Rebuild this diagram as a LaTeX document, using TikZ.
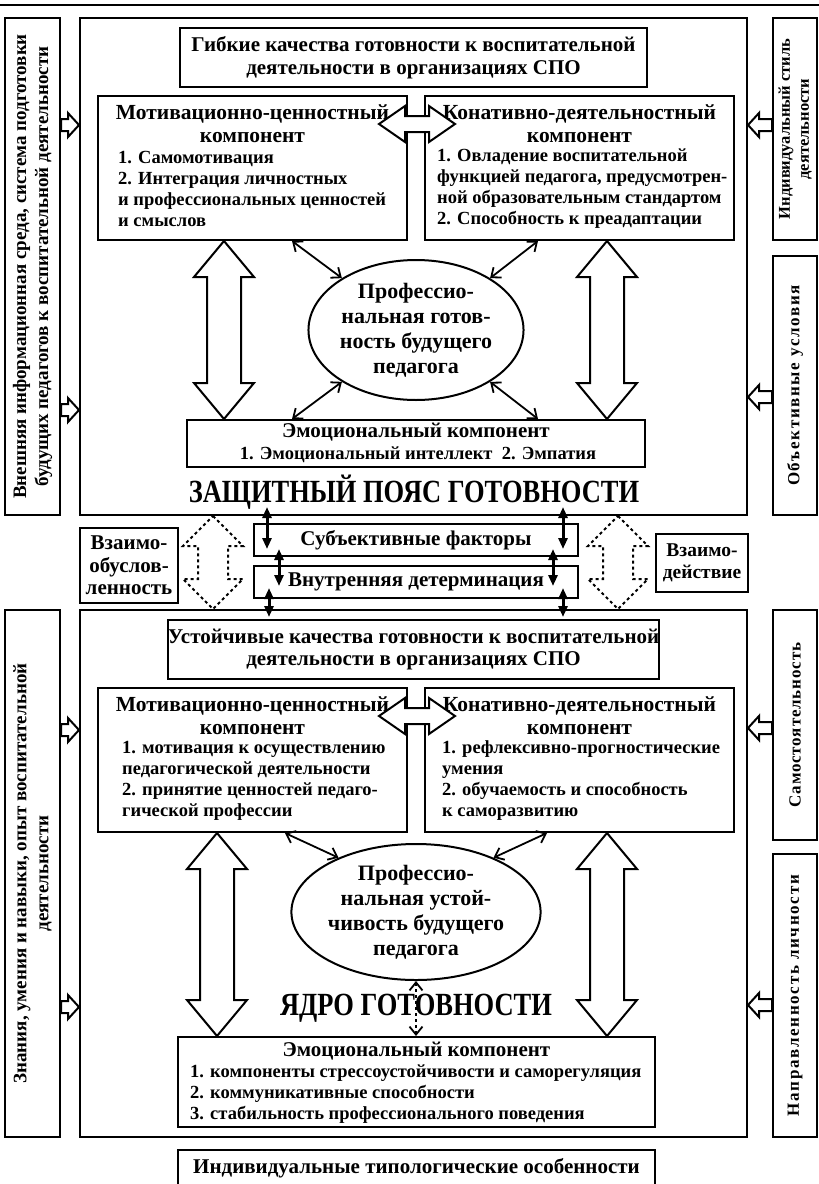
\documentclass[tikz,border=0pt]{standalone}
\usepackage{fontspec}
\usepackage{graphicx}
\setmainfont{Liberation Serif}
\usetikzlibrary{arrows.meta,calc,shapes.geometric}

\newcommand\headfont{\fontsize{21.5}{23}\selectfont\bfseries}
\newcommand\itemfont{\fontsize{18.5}{21}\selectfont\bfseries}
\newcommand\titlefont{\fontsize{21}{22.5}\selectfont\bfseries}
\newcommand\ellfont{\fontsize{22}{25}\selectfont\bfseries}
\newcommand\sidefont{\fontsize{19}{22}\selectfont\bfseries}
\newcommand\rsidefont{\fontsize{17}{20}\selectfont\bfseries}
\newcommand\bigtext[1]{\scalebox{0.82}[1]{\fontsize{32.3}{33}\selectfont\bfseries #1}}

% hollow vertical double arrow: [opts]{top}{bottom}{half shaft}{half head}{head length}
\newcommand{\hollowv}[6][]{%
  \draw[hollow,#1] let \p1=(#2), \p2=(#3) in
    (\x1,\y1) -- (\x1+#5pt,\y1-#6pt) -- (\x1+#4pt,\y1-#6pt) -- (\x1+#4pt,\y2+#6pt)
    -- (\x1+#5pt,\y2+#6pt) -- (\x1,\y2) -- (\x1-#5pt,\y2+#6pt) -- (\x1-#4pt,\y2+#6pt)
    -- (\x1-#4pt,\y1-#6pt) -- (\x1-#5pt,\y1-#6pt) -- cycle;}
% hollow horizontal double arrow: [opts]{left}{right}{half shaft}{half head}{head length}
\newcommand{\hollowh}[6][]{%
  \draw[hollow,#1] let \p1=(#2), \p2=(#3) in
    (\x1,\y1) -- (\x1+#6pt,\y1+#5pt) -- (\x1+#6pt,\y1+#4pt) -- (\x2-#6pt,\y1+#4pt)
    -- (\x2-#6pt,\y1+#5pt) -- (\x2,\y1) -- (\x2-#6pt,\y1-#5pt) -- (\x2-#6pt,\y1-#4pt)
    -- (\x1+#6pt,\y1-#4pt) -- (\x1+#6pt,\y1-#5pt) -- cycle;}
% hollow single arrow: [opts]{tail}{tip}{half shaft}{half head}{head length}
\newcommand{\hollows}[6][]{%
  \draw[hollow,#1] let \p1=(#2), \p2=(#3), \p3=($(#3)!#6pt!(#2)$) in
    (\x1,\y1+#4pt) -- (\x3,\y1+#4pt) -- (\x3,\y1+#5pt) -- (\x2,\y1)
    -- (\x3,\y1-#5pt) -- (\x3,\y1-#4pt) -- (\x1,\y1-#4pt) -- cycle;}

\begin{document}
\begin{tikzpicture}[x=1pt,y=-1pt,
    box/.style={draw, line width=2pt, fill=white, inner sep=0pt},
    tbox/.style={box, font=\titlefont, align=center},
    head/.style={font=\headfont, align=center, inner sep=0pt},
    ttl/.style={font=\titlefont, align=center, inner sep=0pt},
    items/.style={font=\itemfont, align=left, inner sep=0pt, anchor=west},
    side/.style={font=\sidefont, align=center, rotate=90, inner sep=0pt},
    rside/.style={font=\rsidefont, align=center, rotate=90, inner sep=0pt},
    oval/.style={draw, ellipse, line width=2pt, inner sep=0pt, font=\ellfont, align=center},
    hollow/.style={draw, line width=2pt, fill=white, line join=miter},
    thinarr/.style={line width=1.8pt, {Straight Barb[length=8pt,width=13pt]}-{Straight Barb[length=8pt,width=13pt]}},
    thickarr/.style={line width=3pt, {Triangle[length=11pt,width=9pt]}-{Triangle[length=11pt,width=9pt]}}]
  \useasboundingbox (0,0) rectangle (819,1184);
  \draw[line width=2pt] (0,5) -- (819,5);

  % protective belt
  \node[box, minimum width=55, minimum height=497] (extA) at (32.5,266.5) {};
  \node[side] (extAt) at (extA) {Внешняя информационная среда, система подготовки\\будущих педагогов к воспитательной деятельности};
  \node[box, fill=none, minimum width=667, minimum height=497] (upframe) at (413.5,266.5) {};
  \node[box, minimum width=44, minimum height=222] (styleR) at (795,129) {};
  \node[rside, font=\fontsize{16.5}{19}\selectfont\bfseries] (styleRt) at (styleR) {Индивидуальный стиль\\деятельности};
  \node[box, minimum width=44, minimum height=259] (condR) at (795,385.5) {};
  \node[rside] (condRt) at (condR) {\addfontfeature{LetterSpace=10}Объективные условия};

  \node[tbox, minimum width=467, minimum height=59] (flexq) at (413.5,57.5) {Гибкие качества готовности к воспитательной\\деятельности в организациях СПО};
  \node[box, minimum width=309, minimum height=144] (motivA) at (252.5,168) {};
  \node[head] (motivAh) at (252.5,123.5) {Мотивационно-ценностный\\компонент};
  \node[items] (motivAi) at (118,188.5) {1. Самомотивация\\2. Интеграция личностных\\и профессиональных ценностей\\и смыслов};
  \node[box, minimum width=309, minimum height=144] (conatA) at (579.5,168) {};
  \node[head] (conatAh) at (579.5,123.5) {Конативно-деятельностный\\компонент};
  \node[items] (conatAi) at (437,188.5) {1. Овладение воспитательной\\функцией педагога, предусмотрен-\\ной образовательным стандартом\\2. Способность к преадаптации};
  \node[oval, minimum width=204, minimum height=140] (readyA) at (416,330) {Профессио-\\нальная готов-\\ность будущего\\педагога};
  \node[box, minimum width=458, minimum height=47] (emoA) at (416,443.5) {};
  \node[ttl] (emoAh) at (416,432) {Эмоциональный компонент};
  \node[font=\itemfont, inner sep=0pt] (emoAi) at (418,455) {1. Эмоциональный интеллект\ \ 2. Эмпатия};
  \node[inner sep=0pt] (beltA) at (414,492) {\bigtext{ЗАЩИТНЫЙ ПОЯС ГОТОВНОСТИ}};

  \hollowv{motivA.south -| 224,0}{emoA.north -| 224,0}{17}{30}{36}
  \hollowv{conatA.south -| 607,0}{emoA.north -| 607,0}{17}{30}{36}
  \coordinate (linkAl) at (379,124);
  \coordinate (linkAr) at (455,124);
  \hollowh{linkAl}{linkAr}{8}{18}{26}
  \draw[thinarr] (motivA.south -| 292,0) -- (readyA.145);
  \draw[thinarr] (conatA.south -| 538,0) -- (readyA.35);
  \draw[thinarr] (emoA.north -| 292,0) -- (readyA.215);
  \draw[thinarr] (emoA.north -| 538,0) -- (readyA.325);
  \hollows{extA.east |- 0,125}{upframe.west |- 0,125}{6}{12}{11}
  \hollows{extA.east |- 0,410}{upframe.west |- 0,410}{6}{12}{11}
  \hollows{styleR.west |- 0,125}{upframe.east |- 0,125}{6}{12}{11}
  \hollows{condR.west |- 0,397}{upframe.east |- 0,397}{6}{12}{11}

  % core
  \node[box, minimum width=55, minimum height=527] (extB) at (32.5,873.5) {};
  \node[side] (extBt) at (extB) {Знания, умения и навыки, опыт воспитательной\\деятельности};
  \node[box, fill=none, minimum width=667, minimum height=527] (lowframe) at (413.5,873.5) {};
  \node[box, minimum width=44, minimum height=230] (selfR) at (795,725) {};
  \node[rside] (selfRt) at (selfR) {\addfontfeature{LetterSpace=5}Самостоятельность};
  \node[box, minimum width=44, minimum height=283] (orientR) at (795,995.5) {};
  \node[rside] (orientRt) at (orientR) {\addfontfeature{LetterSpace=10}Направленность личности};

  \node[tbox, minimum width=467, minimum height=59] (stableq) at (413.5,649.5) {Устойчивые качества готовности к воспитательной\\деятельности в организациях СПО};
  \node[box, minimum width=309, minimum height=144] (motivB) at (252.5,760) {};
  \node[head] (motivBh) at (252.5,715.5) {Мотивационно-ценностный\\компонент};
  \node[items] (motivBi) at (122,780.5) {1. мотивация к осуществлению\\педагогической деятельности\\2. принятие ценностей педаго-\\гической профессии};
  \node[box, minimum width=309, minimum height=144] (conatB) at (579.5,760) {};
  \node[head] (conatBh) at (579.5,715.5) {Конативно-деятельностный\\компонент};
  \node[items] (conatBi) at (442,780.5) {1. рефлексивно-прогностические\\умения\\2. обучаемость и способность\\к саморазвитию};
  \node[oval, minimum width=204, minimum height=136] (steadyB) at (416,912) {Профессио-\\нальная устой-\\чивость будущего\\педагога};
  \node[inner sep=0pt] (coreB) at (416,1008) {\bigtext{ЯДРО ГОТОВНОСТИ}};
  \node[box, minimum width=477, minimum height=90] (emoB) at (416.5,1082) {};
  \node[ttl] (emoBh) at (416.5,1051) {Эмоциональный компонент};
  \node[items] (emoBi) at (190,1094) {1. компоненты стрессоустойчивости и саморегуляция\\2. коммуникативные способности\\3. стабильность профессионального поведения};

  \hollowv{motivB.south -| 217,0}{emoB.north -| 217,0}{17}{30}{36}
  \hollowv{conatB.south -| 607,0}{emoB.north -| 607,0}{17}{30}{36}
  \coordinate (linkBl) at (379,716);
  \coordinate (linkBr) at (455,716);
  \hollowh{linkBl}{linkBr}{8}{18}{26}
  \draw[thinarr] (motivB.south -| 285,0) -- (steadyB.145);
  \draw[thinarr] (conatB.south -| 547,0) -- (steadyB.35);
  \draw[thinarr, dashed] (steadyB.south) -- (emoB.north -| steadyB.south);
  \hollows{extB.east |- 0,730}{lowframe.west |- 0,730}{6}{12}{11}
  \hollows{extB.east |- 0,1007}{lowframe.west |- 0,1007}{6}{12}{11}
  \hollows{selfR.west |- 0,728}{lowframe.east |- 0,728}{6}{12}{11}
  \hollows{orientR.west |- 0,1005}{lowframe.east |- 0,1005}{6}{12}{11}

  % between
  \node[tbox, minimum width=98, minimum height=75] (mutualL) at (129,565.5) {Взаимо-\\обуслов-\\ленность};
  \node[tbox, minimum width=92, minimum height=58, font=\fontsize{19.5}{22}\selectfont\bfseries] (mutualR) at (702,563) {Взаимо-\\действие};
  \node[tbox, minimum width=324, minimum height=32] (subj) at (416,540) {Субъективные факторы};
  \node[tbox, minimum width=324, minimum height=32] (inner) at (416,582) {Внутренняя детерминация};
  \hollowv[dashed]{upframe.south -| 213,0}{lowframe.north -| 213,0}{15}{30}{30}
  \hollowv[dashed]{upframe.south -| 618,0}{lowframe.north -| 618,0}{15}{30}{30}
  \coordinate (a1) at (267,507);
  \coordinate (a2) at (267,549);
  \coordinate (a3) at (279,549);
  \coordinate (a4) at (279,586);
  \coordinate (a5) at (269,588);
  \coordinate (a6) at (269,617);
  \coordinate (b1) at (563,507);
  \coordinate (b2) at (563,549);
  \coordinate (b3) at (553,549);
  \coordinate (b4) at (553,586);
  \coordinate (b5) at (563,588);
  \coordinate (b6) at (563,617);
  \draw[thickarr] (a1) -- (a2);
  \draw[thickarr] (a3) -- (a4);
  \draw[thickarr] (a5) -- (a6);
  \draw[thickarr] (b1) -- (b2);
  \draw[thickarr] (b3) -- (b4);
  \draw[thickarr] (b5) -- (b6);

  \node[tbox, minimum width=477, minimum height=36] (typol) at (416.5,1168) {Индивидуальные типологические особенности};
\end{tikzpicture}
\end{document}
